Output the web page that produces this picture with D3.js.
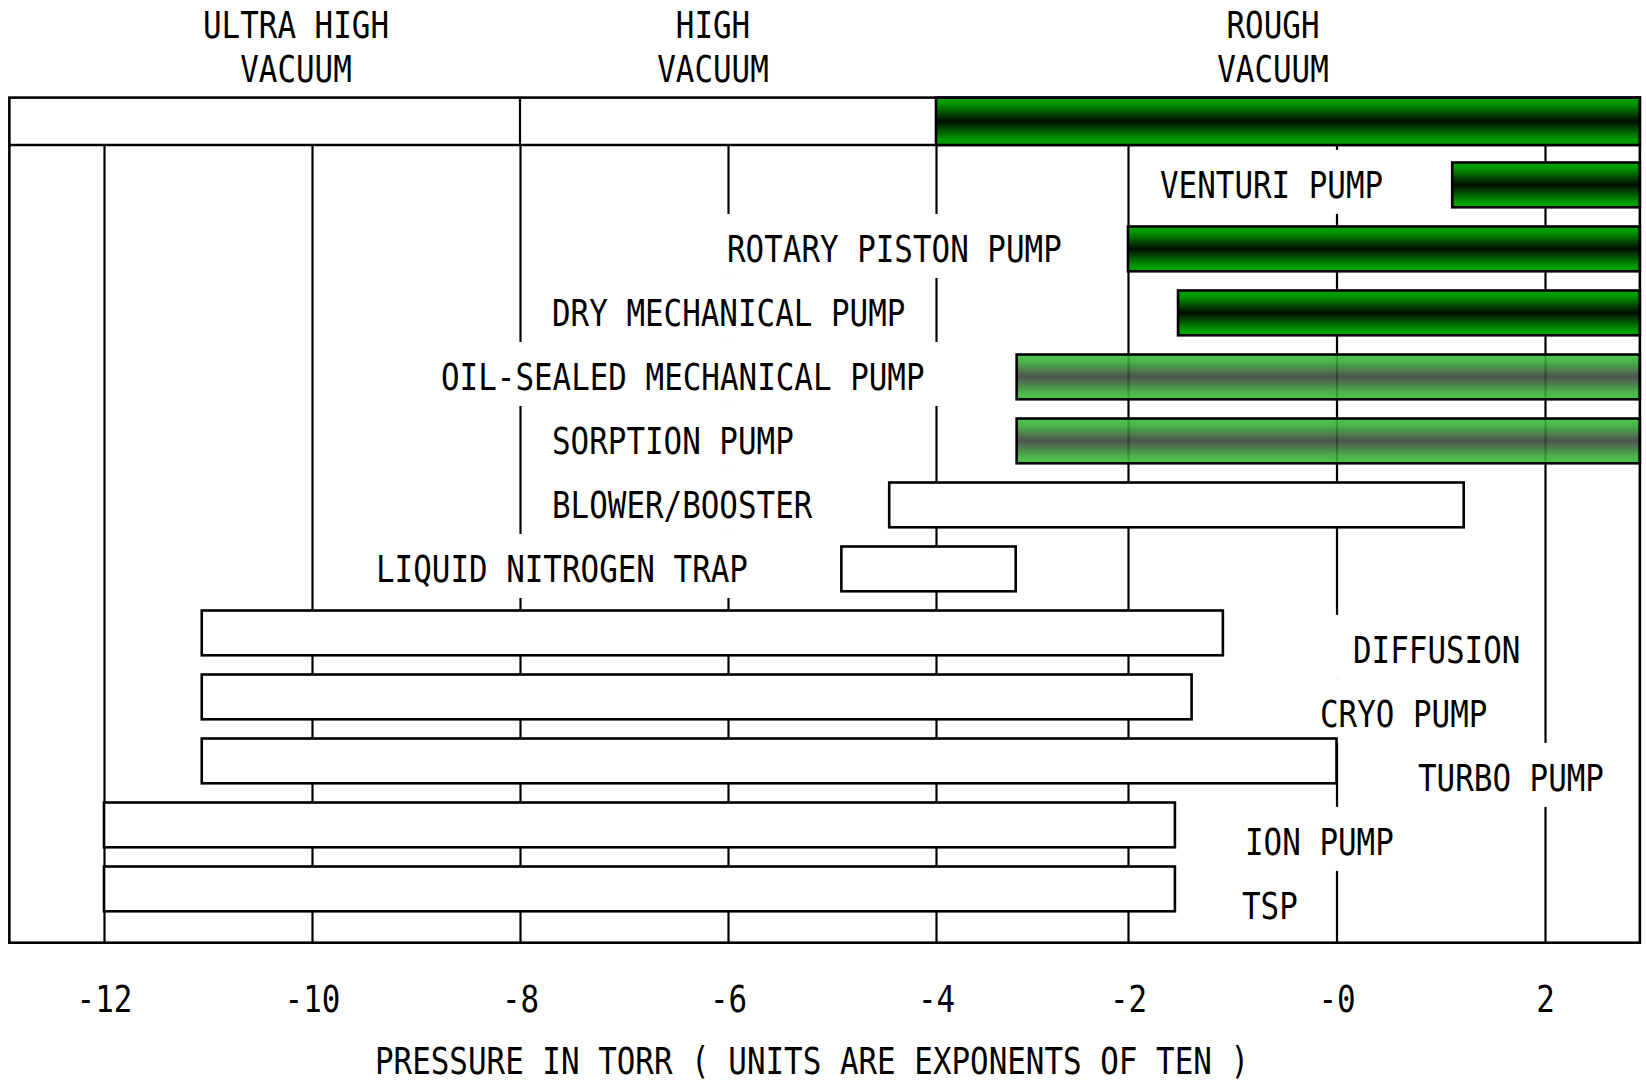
<!DOCTYPE html>
<html><head><meta charset="utf-8">
<script src="https://cdn.jsdelivr.net/npm/d3@7"></script>
<style>body{margin:0;background:#fff} svg{display:block}</style>
</head><body><svg id="chart" width="1646" height="1083"></svg>
<script>
// ---------- data ----------
const pumps = ["VENTURI PUMP","ROTARY PISTON PUMP","DRY MECHANICAL PUMP","OIL-SEALED MECHANICAL PUMP","SORPTION PUMP","BLOWER/BOOSTER","LIQUID NITROGEN TRAP","DIFFUSION","CRYO PUMP","TURBO PUMP","ION PUMP","TSP"];
const rangeLow  = [1.11, -2, -1.52, -3.16, -3.16, -4.45, -4.91, -11.06, -11.06, -11.06, -12, -12];
const rangeHigh = [2.91, 2.91, 2.91, 2.91, 2.91, 1.22, -3.17, -1.09, -1.39, 0, -1.55, -1.55];
const pumpGroup = ["rough","rough","rough","oil","oil","plain","plain","plain","plain","plain","plain","plain"];
const regionNames = [["ULTRA HIGH","VACUUM"],["HIGH","VACUUM"],["ROUGH","VACUUM"]];
const regionLow  = [-12.91, -8, -4];
const regionHigh = [-8, -4, 2.91];
const tickValues = [-12,-10,-8,-6,-4,-2,0,2];
const tickLabels = ["-12","-10","-8","-6","-4","-2","-0","2"];
const axisTitle = "PRESSURE IN TORR ( UNITS ARE EXPONENTS OF TEN )";

// ---------- layout ----------
const labelLeft = [1160, 727, 552, 441, 552, 552, 376, 1353, 1320, 1418, 1245, 1242];
const labelDrop = [0,0,0,0,0,0,0,17,17,17,17,17];
const regionLabelX = [296, 713, 1273];
const FS = 37, SX = 0.835, FONT = "'DejaVu Sans Mono', 'Liberation Mono', monospace";
const frameTop = 97.6, bandBottom = 145, frameBottom = 942.7;

const svg = d3.select("#chart");
const x = d3.scaleLinear().domain([-12, -4, -2, 2]).range([104, 936, 1128, 1545]);
const y = d3.scaleBand().domain(pumps).range([162.5, 911.3]).paddingInner(0.3).paddingOuter(0);
const frameLeft = x(regionLow[0]), frameRight = x(regionHigh[2]);

const defs = svg.append("defs");
function grad(id, stops) {
  const g = defs.append("linearGradient").attr("id", id).attr("x1",0).attr("y1",0).attr("x2",0).attr("y2",1);
  stops.forEach(s => g.append("stop").attr("offset", s[0]).attr("stop-color", s[1]));
}
grad("gDark", [[0,"#00a400"],[0.12,"#009a00"],[0.5,"#000c00"],[0.88,"#009a00"],[1,"#00a400"]]);
grad("gLight", [[0,"#3cbc3c"],[0.14,"#36b036"],[0.5,"#3d3f3d"],[0.86,"#36b036"],[1,"#3cbc3c"]]);

const fillOf = g => g === "rough" ? "url(#gDark)" : g === "oil" ? "url(#gLight)" : "#fff";
const opOf = g => g === "oil" ? 0.9 : 1;

function mono(sel) {
  return sel.attr("font-family", FONT).attr("font-size", FS).attr("fill", "#000");
}

// frame background
svg.append("rect").attr("x", frameLeft).attr("y", frameTop).attr("width", frameRight-frameLeft).attr("height", frameBottom-frameTop).attr("fill","#fff");

// region labels
regionNames.forEach((lines, i) => {
  lines.forEach((t, j) => {
    mono(svg.append("text"))
      .attr("text-anchor","middle")
      .attr("transform", `translate(${regionLabelX[i]},${37.5 + j*44.5}) scale(${SX},1)`)
      .text(t);
  });
});

// top band: rough region highlight + dividers
svg.append("line").attr("x1", frameLeft).attr("x2", frameRight).attr("y1", bandBottom).attr("y2", bandBottom)
  .attr("stroke","#000").attr("stroke-width",2.6);
svg.append("line").attr("x1", x(regionHigh[0])).attr("x2", x(regionHigh[0])).attr("y1", frameTop).attr("y2", bandBottom)
  .attr("stroke","#000").attr("stroke-width",2.2);
svg.append("rect").attr("x", x(regionLow[2])).attr("y", frameTop).attr("width", x(regionHigh[2]) - x(regionLow[2]))
  .attr("height", bandBottom - frameTop).attr("fill","url(#gDark)").attr("stroke","#000").attr("stroke-width",2.6);

// grid + axis
const axis = d3.axisBottom(x).tickValues(tickValues).tickFormat((d,i) => tickLabels[i])
  .tickSizeInner(-(frameBottom - bandBottom)).tickSizeOuter(0).tickPadding(0);
const ax = svg.append("g").attr("transform", `translate(0,${frameBottom})`).call(axis);
ax.select(".domain").remove();
ax.selectAll(".tick line").attr("stroke","#000").attr("stroke-width",2.2);
ax.selectAll(".tick text").attr("font-family", FONT).attr("font-size", FS).attr("fill","#000")
  .attr("dy", null).attr("y", 69.8).attr("transform", `scale(${SX},1)`);

// labels with white boxes
const labG = svg.append("g");
pumps.forEach((p, i) => {
  const cy = y(p) + y.bandwidth()/2 + labelDrop[i];
  const box = labG.append("rect").attr("fill","#fff");
  const t = mono(labG.append("text"))
    .attr("transform", `translate(${labelLeft[i]},${cy + 13.5}) scale(${SX},1)`)
    .text(p);
  const w = t.node().getComputedTextLength() * SX;
  box.attr("x", labelLeft[i] - 22).attr("y", cy - 35).attr("width", w + 44).attr("height", 64);
});

// bars
svg.append("g").selectAll("rect").data(pumps).join("rect")
  .attr("x", (d,i) => x(rangeLow[i]))
  .attr("y", d => y(d))
  .attr("width", (d,i) => x(rangeHigh[i]) - x(rangeLow[i]))
  .attr("height", y.bandwidth())
  .attr("fill", (d,i) => fillOf(pumpGroup[i]))
  .attr("fill-opacity", (d,i) => opOf(pumpGroup[i]))
  .attr("stroke","#000").attr("stroke-width",2.6);

// frame
svg.append("rect").attr("x", frameLeft).attr("y", frameTop).attr("width", frameRight-frameLeft).attr("height", frameBottom-frameTop)
  .attr("fill","none").attr("stroke","#000").attr("stroke-width",2.6);

// axis title
mono(svg.append("text")).attr("text-anchor","middle")
  .attr("transform", `translate(812,1074) scale(${SX},1)`).text(axisTitle);
</script></body></html>
